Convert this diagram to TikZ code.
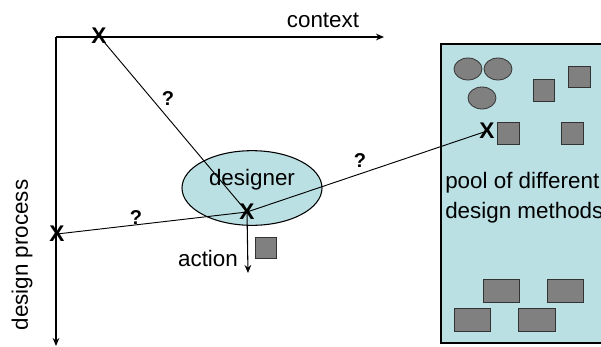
\documentclass[tikz,border=0pt]{standalone}
\usepackage{fontspec}
\setmainfont{Liberation Sans}
\usetikzlibrary{shapes.geometric,arrows.meta}
\definecolor{poolfill}{HTML}{BBE0E3}
\definecolor{itemfill}{HTML}{808080}
\definecolor{itemline}{HTML}{333333}
\begin{document}
\begin{tikzpicture}[x=0.75pt,y=-0.75pt,
  lbl/.style={inner sep=0pt,font=\fontsize{16.8}{19}\selectfont},
  xmark/.style={inner sep=0pt,font=\fontsize{17}{19}\selectfont\bfseries},
  qmark/.style={inner sep=0pt,font=\fontsize{15}{18}\selectfont\bfseries},
  link/.style={line width=0.7pt},
  axis/.style={line width=0.9pt,-{Stealth[length=6pt,width=5pt]}},
  item/.style={fill=itemfill,draw=itemline,line width=0.6pt}]
  \useasboundingbox (0,0) rectangle (601,347);
  \clip (0,0) rectangle (601,347);

  % pool of design methods
  \draw[fill=poolfill,line width=0.8pt] (441,44) rectangle (620,343);
  \node[item,ellipse,minimum width=21pt,minimum height=16.5pt] (c1) at (468,69) {};
  \node[item,ellipse,minimum width=21pt,minimum height=16.5pt] (c2) at (498,69) {};
  \node[item,ellipse,minimum width=21pt,minimum height=16.5pt] (c3) at (482,98) {};
  \draw[item] (533,79) rectangle (554,101);
  \draw[item] (568,66) rectangle (590,87);
  \draw[item] (497,122) rectangle (519,144);
  \draw[item] (561,122) rectangle (583,144);
  \draw[item] (483,279) rectangle (519,302);
  \draw[item] (547,279) rectangle (583,302);
  \draw[item] (454,308) rectangle (490,331);
  \draw[item] (518,308) rectangle (555,331);
  \node[lbl,anchor=west] (pool1) at (445,183) {pool of different};
  \node[lbl,anchor=west] (pool2) at (445,213) {design methods};

  % designer
  \node[ellipse,fill=poolfill,draw=black,line width=0.8pt,
        minimum width=105pt,minimum height=56pt] (designer) at (252,188) {};
  \node[lbl] (dtext) at (252,180) {designer};

  % axes
  \coordinate (corner) at (56,37);
  \coordinate (ctxend) at (384,37);
  \coordinate (procend) at (56,346);
  \draw[axis] (corner) -- (ctxend);
  \draw[axis] (corner) -- (procend);
  \node[lbl] (context) at (323,20) {context};
  \node[lbl,rotate=90] (process) at (22,255) {design process};

  % decision points
  \node[xmark] (xtop) at (99,36) {X};
  \node[xmark] (xleft) at (57,234) {X};
  \node[xmark] (xmid) at (247,212) {X};
  \node[xmark] (xpool) at (487,131) {X};
  \draw[link] (xtop.center) -- (xmid.center);
  \draw[link] (xleft.center) -- (xmid.center);
  \draw[link] (xmid.center) -- (xpool.center);
  \node[qmark] (q1) at (168,99) {?};
  \node[qmark] (q2) at (136,218) {?};
  \node[qmark] (q3) at (360,161) {?};

  % action
  \coordinate (actend) at (248,273);
  \draw[line width=0.8pt,-{Stealth[length=6pt,width=5pt]}] (xmid.center) -- (actend);
  \node[lbl] (action) at (208,258) {action};
  \draw[item] (255,237) rectangle (276,258);
\end{tikzpicture}
\end{document}
